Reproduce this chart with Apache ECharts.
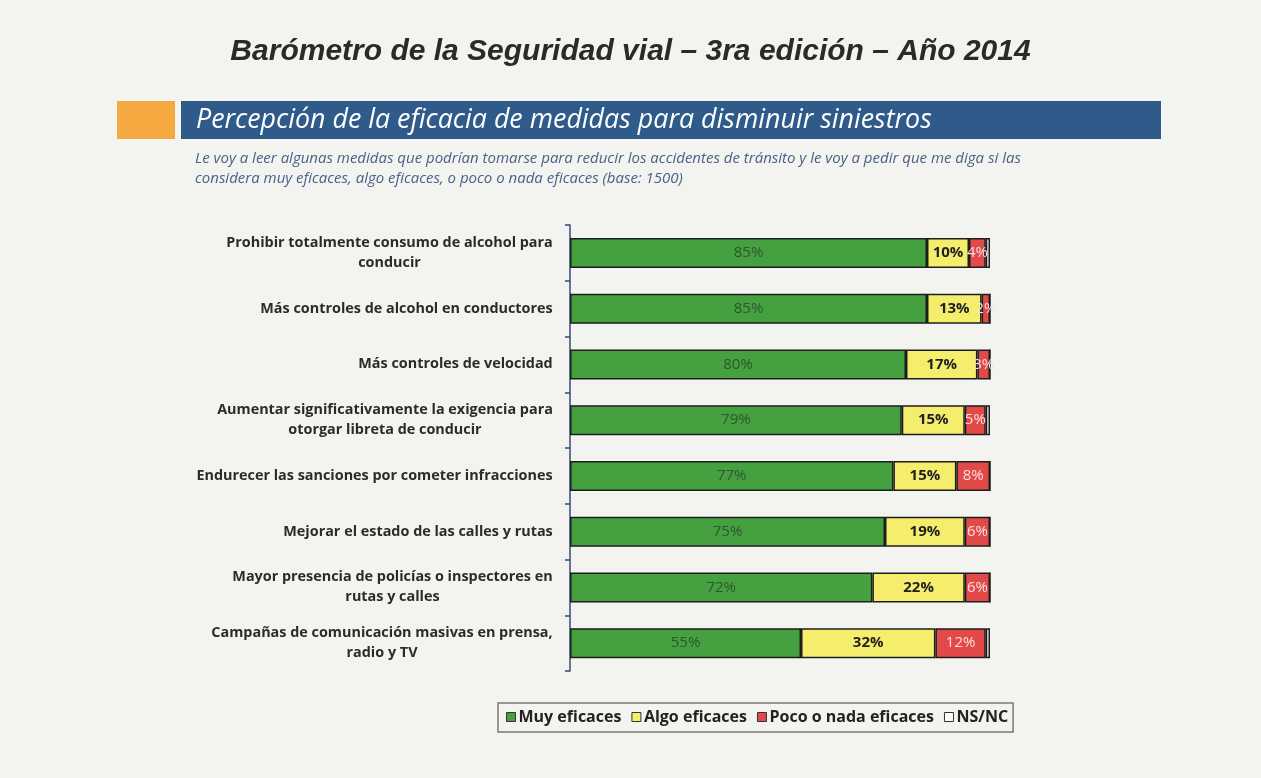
<!DOCTYPE html>
<html>
<head>
<meta charset="utf-8">
<script src="https://cdn.jsdelivr.net/npm/echarts@6/dist/echarts.min.js"></script>
<style>
  html, body { margin: 0; padding: 0; background: #f3f3ef; }
  #main { width: 1261px; height: 778px; }
</style>
</head>
<body>
<div id="main"></div>
<script>
'use strict';

// medidas (de arriba hacia abajo)
const categories = [
    'Prohibir totalmente consumo de alcohol para\nconducir',
    'Más controles de alcohol en conductores',
    'Más controles de velocidad',
    'Aumentar significativamente la exigencia para\notorgar libreta de conducir',
    'Endurecer las sanciones por cometer infracciones',
    'Mejorar el estado de las calles y rutas',
    'Mayor presencia de policías o inspectores en\nrutas y calles',
    'Campañas de comunicación masivas en prensa,\nradio y TV'
];
const seriesNames = ['Muy eficaces', 'Algo eficaces', 'Poco o nada eficaces', 'NS/NC'];
const muyEficaces = [85, 85, 80, 79, 77, 75, 72, 55];
const algoEficaces = [10, 13, 17, 15, 15, 19, 22, 32];
const pocoEficaces = [4, 2, 3, 5, 8, 6, 6, 12];
const nsnc = [1, 0, 0, 1, 0, 0, 0, 1];

const labelFont = 'bold 14.4px "Open Sans"';

// ancho de cada etiqueta para centrar las lineas dentro del bloque
const ctx = document.createElement('canvas').getContext('2d');
ctx.font = labelFont;
const rich = {};
categories.forEach(function (c, i) {
    let w = 0;
    c.split('\n').forEach(function (line) {
        w = Math.max(w, ctx.measureText(line).width);
    });
    rich['r' + i] = {
        width: Math.ceil(w) + 2, align: 'center', lineHeight: 20,
        fontFamily: 'Open Sans', fontWeight: 'bold', fontSize: 14.4, color: '#2b2b2b'
    };
});

let chart = echarts.init(document.getElementById('main'));

function seg(name, data, color, labelColor, bold, showLabel) {
    return {
        name: name,
        type: 'bar',
        stack: 'total',
        data: data,
        barWidth: 30,
        itemStyle: { color: color, borderColor: '#1d1d1d', borderWidth: 1.5 },
        label: {
            show: showLabel,
            position: 'inside',
            formatter: function (p) { return p.value > 0 ? p.value + '%' : ''; },
            color: labelColor,
            fontFamily: 'Open Sans',
            fontSize: 15,
            fontWeight: bold ? 'bold' : 'normal'
        }
    };
}

let option = {
    backgroundColor: '#f3f3ef',
    title: {
        text: 'Barómetro de la Seguridad vial – 3ra edición – Año 2014',
        left: 'center',
        top: 32,
        textStyle: {
            fontFamily: 'Liberation Sans',
            fontStyle: 'italic',
            fontWeight: 'bold',
            fontSize: 30,
            color: '#2a2a2a'
        }
    },
    graphic: [
        { type: 'rect', shape: { x: 117, y: 101, width: 58, height: 38 }, style: { fill: '#f6a840' } },
        { type: 'rect', shape: { x: 181, y: 101, width: 980, height: 38 }, style: { fill: '#2f5b8b' } },
        {
            type: 'text',
            style: {
                x: 196, y: 120, verticalAlign: 'middle',
                text: 'Percepción de la eficacia de medidas para disminuir siniestros',
                fill: '#ffffff', font: 'italic 26.8px "Open Sans"'
            }
        },
        {
            type: 'text',
            style: {
                x: 195, y: 149,
                text: 'Le voy a leer algunas medidas que podrían tomarse para reducir los accidentes de tránsito y le voy a pedir que me diga si las\nconsidera muy eficaces, algo eficaces, o poco o nada eficaces (base: 1500)',
                fill: '#4a5f8a', font: 'italic 15px "Open Sans"', lineHeight: 20
            }
        }
    ],
    legend: {
        data: seriesNames,
        icon: 'rect',
        left: 498,
        top: 703,
        padding: [6, 5, 7, 8],
        itemGap: 10,
        itemWidth: 9,
        itemHeight: 9,
        borderColor: '#7a7a7a',
        borderWidth: 1.5,
        textStyle: { fontFamily: 'Open Sans', fontWeight: 'bold', fontSize: 16, color: '#222', padding: [0, 0, 0, -2] },
        itemStyle: { borderColor: '#333', borderWidth: 1 }
    },
    grid: { left: 570, right: 271, top: 225, bottom: 107 },
    xAxis: {
        type: 'value',
        min: 0,
        max: 100,
        show: false
    },
    yAxis: {
        type: 'category',
        inverse: true,
        data: categories,
        axisLine: { show: true, lineStyle: { color: '#34497a', width: 1.5 } },
        axisTick: { show: true, length: 5, lineStyle: { color: '#34497a', width: 1.5 } },
        axisLabel: {
            margin: 16,
            formatter: function (v, i) {
                return v.split('\n').map(function (l) { return '{r' + i + '|' + l + '}'; }).join('\n');
            },
            rich: rich
        }
    },
    series: [
        seg(seriesNames[0], muyEficaces, '#45a040', '#2f5530', false, true),
        seg(seriesNames[1], algoEficaces, '#f4ee6c', '#1f1f1f', true, true),
        seg(seriesNames[2], pocoEficaces, '#e14a48', '#fbe0e0', false, true),
        seg(seriesNames[3], nsnc, '#ffffff', '#1f1f1f', false, false)
    ]
};

chart.setOption(option);
</script>
</body>
</html>
